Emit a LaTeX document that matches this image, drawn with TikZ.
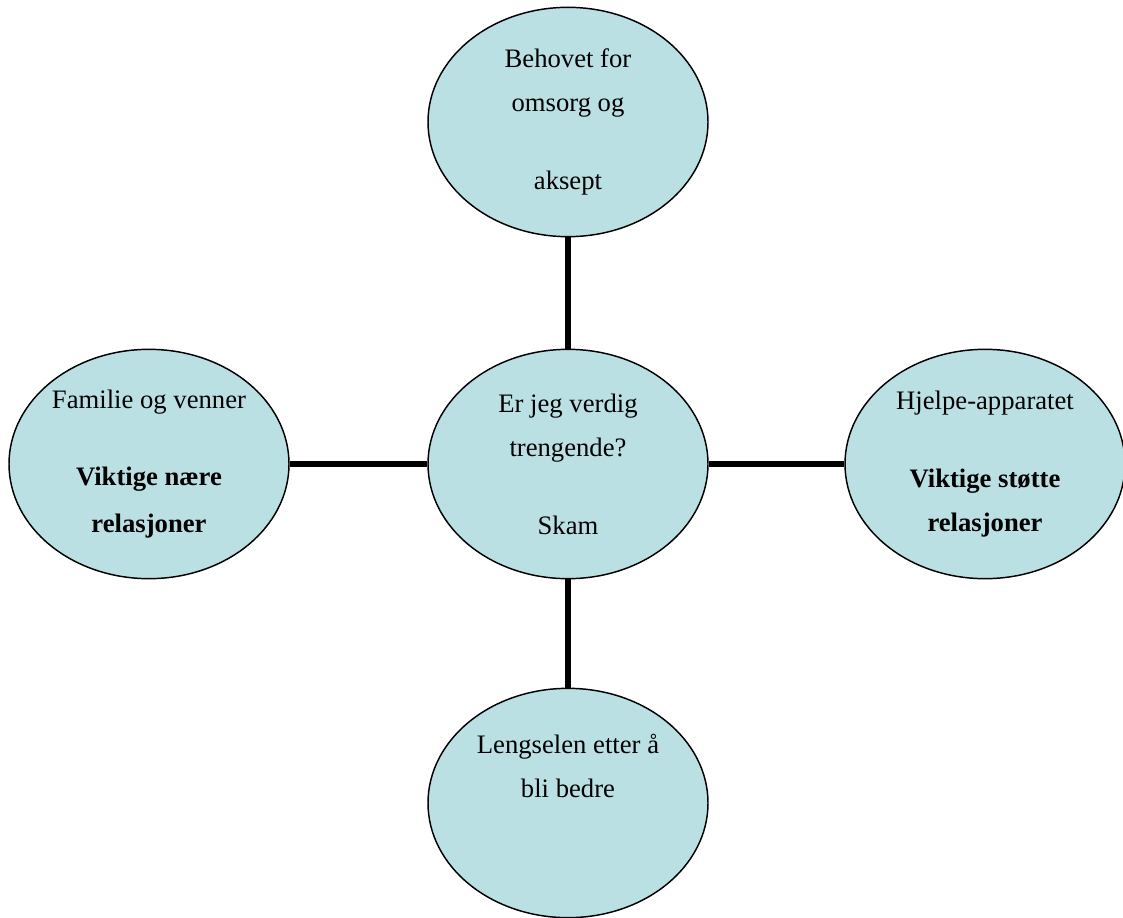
\documentclass[tikz,border=0pt]{standalone}
\usepackage{fontspec}
\setmainfont{Liberation Serif}
\usetikzlibrary{shapes.geometric}
\definecolor{bubblefill}{HTML}{BBE0E3}

\begin{document}
\begin{tikzpicture}[x=0.75pt,y=-0.75pt,
    bubble/.style={ellipse,draw=black,line width=1.1pt,fill=bubblefill,
        minimum width=210pt,minimum height=172pt,inner sep=0pt,
        align=center,font=\fontsize{20}{33}\selectfont},
    link/.style={line width=4.3pt}]
    \useasboundingbox (0,0) rectangle (1123,917);

    \node[bubble] (midt) at (568,464) {Er jeg verdig\\trengende?\\[25.5pt]Skam};
    \node[bubble] (omsorg) at (568,122) {Behovet for\\omsorg og\\[25.5pt]aksept};
    \node[bubble] (familie) at (149,464) {Familie og venner\\[25pt]\textbf{Viktige nære}\\[2.5pt]\textbf{relasjoner}};
    \node[bubble] (hjelp) at (985,464) {Hjelpe-apparatet\\[26pt]\textbf{Viktige støtte}\\\textbf{relasjoner}};
    \node[bubble] (lengsel) at (568,803) {Lengselen etter å\\bli bedre\\[22.5pt]\mbox{}};

    \draw[link] (omsorg) -- (midt);
    \draw[link] (familie) -- (midt);
    \draw[link] (midt) -- (hjelp);
    \draw[link] (midt) -- (lengsel);
\end{tikzpicture}
\end{document}
